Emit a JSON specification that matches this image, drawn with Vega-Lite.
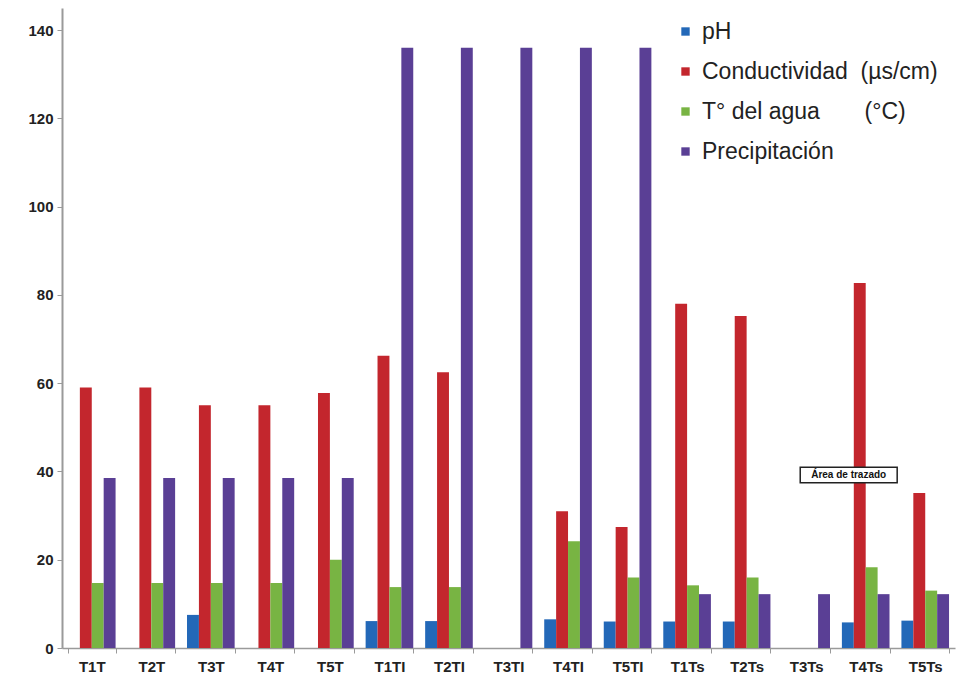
{
  "$schema": "https://vega.github.io/schema/vega-lite/v6.json",
  "width": 893,
  "height": 640,
  "autosize": {"type": "none"},
  "padding": {"left": 62, "top": 8, "right": 7, "bottom": 30},
  "background": "white",
  "config": {"view": {"stroke": null}, "font": "Liberation Sans"},
  "datasets": {
    "main": [
      {"sitio": "T1T", "variable": "pH", "valor": 0},
      {"sitio": "T1T", "variable": "Conductividad", "valor": 59},
      {"sitio": "T1T", "variable": "Temp", "valor": 14.7},
      {"sitio": "T1T", "variable": "Precipitación", "valor": 38.5},
      {"sitio": "T2T", "variable": "pH", "valor": 0},
      {"sitio": "T2T", "variable": "Conductividad", "valor": 59},
      {"sitio": "T2T", "variable": "Temp", "valor": 14.7},
      {"sitio": "T2T", "variable": "Precipitación", "valor": 38.5},
      {"sitio": "T3T", "variable": "pH", "valor": 7.5},
      {"sitio": "T3T", "variable": "Conductividad", "valor": 55},
      {"sitio": "T3T", "variable": "Temp", "valor": 14.7},
      {"sitio": "T3T", "variable": "Precipitación", "valor": 38.5},
      {"sitio": "T4T", "variable": "pH", "valor": 0},
      {"sitio": "T4T", "variable": "Conductividad", "valor": 55},
      {"sitio": "T4T", "variable": "Temp", "valor": 14.7},
      {"sitio": "T4T", "variable": "Precipitación", "valor": 38.5},
      {"sitio": "T5T", "variable": "pH", "valor": 0},
      {"sitio": "T5T", "variable": "Conductividad", "valor": 57.8},
      {"sitio": "T5T", "variable": "Temp", "valor": 20},
      {"sitio": "T5T", "variable": "Precipitación", "valor": 38.5},
      {"sitio": "T1TI", "variable": "pH", "valor": 6.1},
      {"sitio": "T1TI", "variable": "Conductividad", "valor": 66.2},
      {"sitio": "T1TI", "variable": "Temp", "valor": 13.8},
      {"sitio": "T1TI", "variable": "Precipitación", "valor": 136},
      {"sitio": "T2TI", "variable": "pH", "valor": 6.1},
      {"sitio": "T2TI", "variable": "Conductividad", "valor": 62.5},
      {"sitio": "T2TI", "variable": "Temp", "valor": 13.8},
      {"sitio": "T2TI", "variable": "Precipitación", "valor": 136},
      {"sitio": "T3TI", "variable": "pH", "valor": 0},
      {"sitio": "T3TI", "variable": "Conductividad", "valor": 0},
      {"sitio": "T3TI", "variable": "Temp", "valor": 0},
      {"sitio": "T3TI", "variable": "Precipitación", "valor": 136},
      {"sitio": "T4TI", "variable": "pH", "valor": 6.5},
      {"sitio": "T4TI", "variable": "Conductividad", "valor": 31},
      {"sitio": "T4TI", "variable": "Temp", "valor": 24.2},
      {"sitio": "T4TI", "variable": "Precipitación", "valor": 136},
      {"sitio": "T5TI", "variable": "pH", "valor": 6},
      {"sitio": "T5TI", "variable": "Conductividad", "valor": 27.4},
      {"sitio": "T5TI", "variable": "Temp", "valor": 16},
      {"sitio": "T5TI", "variable": "Precipitación", "valor": 136},
      {"sitio": "T1Ts", "variable": "pH", "valor": 6},
      {"sitio": "T1Ts", "variable": "Conductividad", "valor": 78},
      {"sitio": "T1Ts", "variable": "Temp", "valor": 14.2},
      {"sitio": "T1Ts", "variable": "Precipitación", "valor": 12.2},
      {"sitio": "T2Ts", "variable": "pH", "valor": 6},
      {"sitio": "T2Ts", "variable": "Conductividad", "valor": 75.2},
      {"sitio": "T2Ts", "variable": "Temp", "valor": 16},
      {"sitio": "T2Ts", "variable": "Precipitación", "valor": 12.2},
      {"sitio": "T3Ts", "variable": "pH", "valor": 0},
      {"sitio": "T3Ts", "variable": "Conductividad", "valor": 0},
      {"sitio": "T3Ts", "variable": "Temp", "valor": 0},
      {"sitio": "T3Ts", "variable": "Precipitación", "valor": 12.2},
      {"sitio": "T4Ts", "variable": "pH", "valor": 5.8},
      {"sitio": "T4Ts", "variable": "Conductividad", "valor": 82.7},
      {"sitio": "T4Ts", "variable": "Temp", "valor": 18.3},
      {"sitio": "T4Ts", "variable": "Precipitación", "valor": 12.2},
      {"sitio": "T5Ts", "variable": "pH", "valor": 6.2},
      {"sitio": "T5Ts", "variable": "Conductividad", "valor": 35.1},
      {"sitio": "T5Ts", "variable": "Temp", "valor": 13},
      {"sitio": "T5Ts", "variable": "Precipitación", "valor": 12.2}
    ],
    "nota": [
      {"sitio": "T4Ts", "valor": 39.2, "texto": "Área de trazado"}
    ]
  },
  "encoding": {
    "x": {
      "field": "sitio",
      "type": "nominal",
      "sort": ["T1T","T2T","T3T","T4T","T5T","T1TI","T2TI","T3TI","T4TI","T5TI","T1Ts","T2Ts","T3Ts","T4Ts","T5Ts"],
      "scale": {"paddingInner": 0.2, "paddingOuter": 0.1},
      "axis": {
        "title": null,
        "labelAngle": 0,
        "labelFont": "Liberation Sans",
        "labelFontSize": 15,
        "labelFontWeight": "bold",
        "labelColor": "#222222",
        "labelPadding": 6,
        "domainColor": "#9a9a9a",
        "domainWidth": 1.5,
        "tickColor": "#9a9a9a",
        "tickBand": "extent",
        "tickSize": 5
      }
    },
    "y": {
      "field": "valor",
      "type": "quantitative",
      "scale": {"domain": [0, 145], "nice": false},
      "axis": {
        "title": null,
        "values": [0, 20, 40, 60, 80, 100, 120, 140],
        "grid": false,
        "labelFont": "Liberation Sans",
        "labelFontSize": 15,
        "labelFontWeight": "bold",
        "labelColor": "#222222",
        "labelPadding": 4,
        "domainColor": "#9a9a9a",
        "domainWidth": 2,
        "tickColor": "#9a9a9a",
        "tickSize": 5
      }
    }
  },
  "layer": [
    {
      "data": {"name": "main"},
      "mark": {"type": "bar"},
      "encoding": {
        "xOffset": {
          "field": "variable",
          "type": "nominal",
          "scale": {"domain": ["pH", "Conductividad", "Temp", "Precipitación"], "paddingInner": 0, "paddingOuter": 0}
        },
        "color": {
          "field": "variable",
          "type": "nominal",
          "scale": {
            "domain": ["pH", "Conductividad", "Temp", "Precipitación"],
            "range": ["#2368b8", "#c3262d", "#78b443", "#5a3f95"]
          },
          "legend": {
            "title": null,
            "orient": "none",
            "legendX": 612,
            "legendY": 12,
            "symbolType": "square",
            "symbolSize": 70,
            "symbolStrokeWidth": 0,
            "labelFont": "Liberation Sans",
            "labelFontSize": 23,
            "labelColor": "#222222",
            "labelOffset": 5,
            "rowPadding": 16,
            "labelLimit": 400,
            "fillColor": "white",
            "labelExpr": "datum.label == 'pH' ? 'pH' : datum.label == 'Conductividad' ? 'Conductividad\u00a0 (µs/cm)' : datum.label == 'Temp' ? 'T° del agua\u00a0\u00a0\u00a0\u00a0\u00a0\u00a0 (°C)' : 'Precipitación'"
          }
        }
      }
    },
    {
      "data": {"name": "nota"},
      "mark": {
        "type": "point",
        "shape": "M-1,-0.16L1,-0.16L1,0.16L-1,0.16Z",
        "size": 9400,
        "filled": false,
        "fill": "white",
        "fillOpacity": 1,
        "stroke": "#222222",
        "strokeWidth": 1.5,
        "opacity": 1,
        "xOffset": -17
      }
    },
    {
      "data": {"name": "nota"},
      "mark": {
        "type": "text",
        "font": "Liberation Sans",
        "fontSize": 10,
        "fontWeight": "bold",
        "color": "#111111",
        "xOffset": -17
      },
      "encoding": {"text": {"field": "texto"}}
    }
  ]
}
